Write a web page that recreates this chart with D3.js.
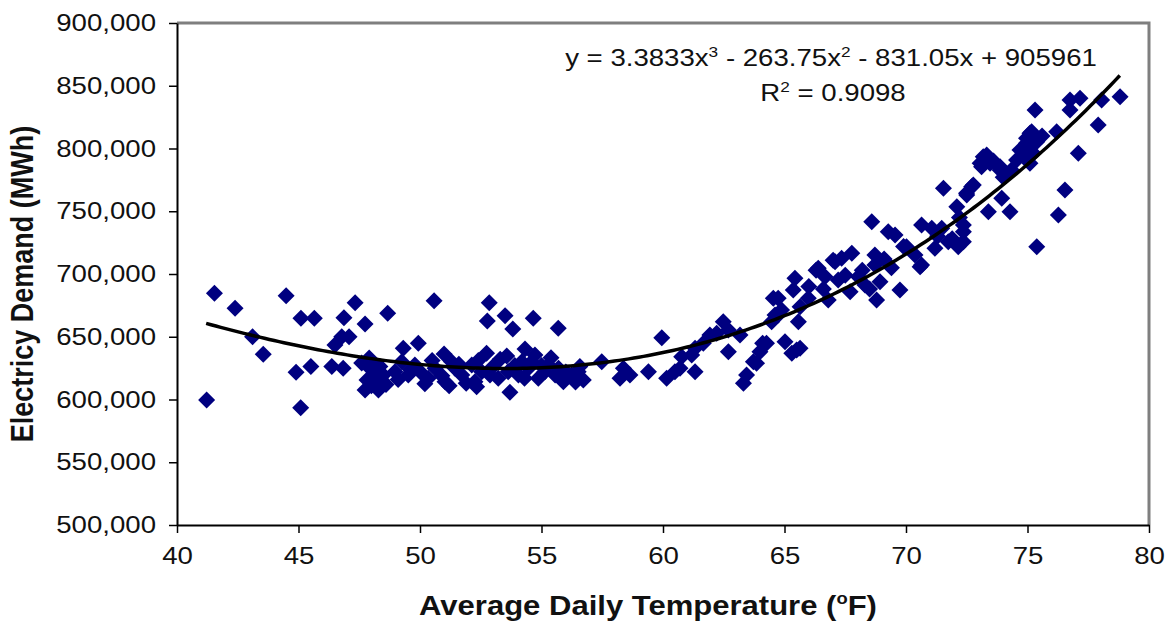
<!DOCTYPE html>
<html>
<head>
<meta charset="utf-8">
<script src="https://cdn.jsdelivr.net/npm/d3@7"></script>
<style>
  body { margin: 0; background: #fff; }
  svg text { font-family: "Liberation Sans", Arial, sans-serif; fill: #111; }
</style>
</head>
<body>
<svg id="chart" width="1173" height="630"></svg>
<script>
// [temperature °F, demand MWh]
const coolDays = [
    [41.22, 599600], [41.54, 684600], [42.39, 672700], [43.11, 650000], [43.55, 636000],
    [44.49, 682700], [44.90, 621700], [45.09, 593500], [45.10, 664700], [45.51, 626200],
    [45.65, 664700], [46.37, 626200], [46.50, 643400], [46.78, 650000], [46.84, 624900],
    [46.87, 665200], [47.08, 650000], [47.33, 677100], [47.74, 660200], [47.74, 607600],
    [47.94, 625000], [48.22, 619500], [47.91, 633100], [48.40, 615500], [47.82, 615500],
    [48.29, 607600], [48.35, 626200], [48.49, 619500], [48.67, 668700], [48.10, 628000],
    [48.00, 611000], [47.60, 629000], [48.60, 612000]
]
const mildDays = [
    [48.97, 622200], [49.25, 630100], [49.31, 640800], [49.52, 619500], [49.79, 627500],
    [49.93, 644800], [50.07, 620900], [50.34, 616900], [50.58, 678700], [50.62, 624900],
    [50.99, 636300], [51.03, 614200], [51.30, 630100], [51.44, 624900], [51.72, 619500],
    [52.13, 627500], [52.26, 614200], [52.33, 610200], [52.54, 622200], [52.74, 636800],
    [52.77, 662600], [52.85, 677100], [52.88, 619500], [53.22, 616900], [53.50, 666800],
    [53.57, 634700], [53.63, 622200], [53.70, 605700], [53.82, 656200], [54.05, 619500],
    [54.19, 630100], [54.32, 640200], [54.46, 624900], [54.66, 664700], [54.73, 635500],
    [54.87, 616900], [55.14, 622200], [55.28, 627500], [55.39, 633300], [55.56, 619500],
    [55.69, 656700], [55.90, 614200], [56.24, 619500], [56.51, 622200], [56.58, 626200],
    [56.72, 615500], [57.48, 630100], [58.23, 616900], [58.37, 624900], [58.64, 619500],
    [59.40, 622200], [59.95, 649300], [60.15, 616900], [60.49, 622200], [60.70, 624900],
    [60.77, 634100], [61.18, 635500], [61.32, 622200], [61.32, 640800], [61.66, 644800],
    [61.93, 651400], [49.10, 616000], [49.60, 624000], [50.20, 612500], [50.50, 631000],
    [50.90, 619000], [51.20, 611000], [51.60, 628000], [51.90, 613000], [52.40, 631000],
    [53.00, 626000], [53.30, 632000], [53.90, 627000], [54.30, 617000], [54.60, 630000],
    [55.00, 627000], [55.70, 625000], [56.00, 622000], [56.40, 614000]
]
const warmDays = [
    [62.21, 652800], [62.48, 662000], [62.69, 655400], [62.69, 638100], [63.17, 651400],
    [63.31, 612900], [63.44, 619500], [63.72, 630100], [63.85, 628900], [63.99, 638100],
    [64.10, 644800], [64.26, 644800], [64.47, 662000], [64.54, 680600], [64.61, 667300],
    [64.74, 667300], [64.74, 680600], [64.88, 671300], [65.02, 646100], [65.30, 636800],
    [65.36, 687300], [65.43, 696600], [65.50, 639500], [65.57, 662000], [65.64, 673900],
    [65.64, 640800], [65.98, 680600], [66.30, 703000], [66.39, 704500], [66.67, 697900],
    [66.80, 679300], [67.00, 711000], [67.08, 709800], [67.21, 695200], [67.35, 712500],
    [67.70, 685900], [67.77, 716500], [68.04, 697900], [68.31, 691200], [68.59, 741700],
    [68.72, 715100], [68.72, 707200], [68.79, 679300], [68.93, 693900], [69.27, 733700],
    [69.55, 731100], [69.75, 687300], [66.00, 690000], [66.60, 688000], [67.50, 699000],
    [68.20, 703000], [68.50, 688000], [69.10, 712000], [69.40, 705000], [69.90, 722000]
]
const hotDays = [
    [70.02, 721800], [70.37, 715100], [70.58, 705800], [70.64, 739000], [70.64, 707200],
    [71.06, 736400], [71.19, 720500], [71.30, 730000], [71.47, 736400], [71.54, 768300],
    [71.74, 725700], [72.09, 753600], [72.15, 721800], [72.36, 733700], [72.36, 739000],
    [72.36, 725700], [72.49, 764300], [72.50, 763000], [72.70, 769600], [72.77, 770900],
    [73.05, 788200], [73.11, 785500], [73.18, 793500], [73.32, 794800], [73.39, 749600],
    [73.46, 788200], [73.87, 782900], [73.87, 785500], [73.94, 760300], [74.28, 749600],
    [74.34, 782900], [74.55, 790800], [74.69, 798800], [74.76, 798800], [74.96, 804100],
    [74.96, 792200], [74.96, 808100], [75.10, 812100], [75.10, 788200], [75.17, 813400],
    [75.24, 796200], [75.31, 830700], [75.38, 805400], [75.38, 721800], [76.20, 813400],
    [76.27, 747000], [76.54, 766900], [76.75, 838600], [76.75, 830700], [77.09, 796200],
    [77.16, 840000], [77.91, 818700], [78.05, 838600], [78.81, 841300], [71.90, 728000],
    [72.20, 745000], [73.60, 790000], [74.00, 777000], [75.00, 800000], [75.60, 810000]
]

const xTicks = [40, 45, 50, 55, 60, 65, 70, 75, 80]
const yTicks = [500000, 550000, 600000, 650000, 700000, 750000, 800000, 850000, 900000]

// printed trendline: y = 3.3833x^3 - 263.75x^2 - 831.05x + 905961
const trendCoef = [3.3833, -263.75, -831.05, 905961]
const trendRange = [41.2, 78.8]
const rSquared = '0.9098'

const margin = { top: 23, right: 24, bottom: 105, left: 177 }
const svg = d3.select('#chart')
const width = +svg.attr('width') - margin.left - margin.right
const height = +svg.attr('height') - margin.top - margin.bottom

const x = d3.scaleLinear().domain([40, 80]).range([0, width])
const y = d3.scaleLinear().domain([500000, 900000]).range([height, 0])

// the source picture has its text a bit wider than tall
const stretchK = 1.15
const stretchAt = (ax) => `translate(${ax},0) scale(${stretchK},1) translate(${-ax},0)`

const g = svg.append('g').attr('transform', `translate(${margin.left},${margin.top})`)

// plot frame: grey top/right, black axes
g.append('path')
    .attr('d', `M0,0H${width}V${height}`)
    .attr('fill', 'none')
    .attr('stroke', '#7f7f7f')
    .attr('stroke-width', 3)

const fmt = d3.format(',')
const yAxis = g.append('g')
    .call(d3.axisLeft(y).tickValues(yTicks).tickFormat(fmt).tickSize(8).tickSizeOuter(0).tickPadding(13))
const xAxis = g.append('g')
    .attr('transform', `translate(0,${height})`)
    .call(d3.axisBottom(x).tickValues(xTicks).tickSize(8).tickSizeOuter(0).tickPadding(14))

for (const ax of [xAxis, yAxis]) {
    ax.select('.domain').attr('stroke', '#000').attr('stroke-width', 2)
    ax.selectAll('.tick line').attr('stroke', '#000').attr('stroke-width', 1.5)
    ax.selectAll('.tick text')
        .attr('fill', '#111')
        .style('font-size', '24px')
        .style('font-family', '"Liberation Sans", Arial, sans-serif')
        .attr('transform', function () { return stretchAt(+this.getAttribute('x') || 0) })
}

// diamond markers
const points = [...coolDays, ...mildDays, ...warmDays, ...hotDays]
const s = 8.5
g.append('g')
    .selectAll('path')
    .data(points)
    .join('path')
    .attr('transform', d => `translate(${x(d[0])},${y(d[1])})`)
    .attr('d', `M0,${-s}L${s},0L0,${s}L${-s},0Z`)
    .attr('fill', '#000080')

// trendline
const poly = t => trendCoef.reduce((acc, c) => acc * t + c, 0)
const trendX = d3.range(trendRange[0], trendRange[1] + 0.001, 0.2)
g.append('path')
    .datum(trendX)
    .attr('fill', 'none')
    .attr('stroke', '#000')
    .attr('stroke-width', 3.5)
    .attr('stroke-linejoin', 'round')
    .attr('d', d3.line().x(t => x(t)).y(t => y(poly(t))))

// equation labels
const eq = svg.append('text')
    .attr('x', 831).attr('y', 66)
    .attr('text-anchor', 'middle')
    .attr('transform', stretchAt(831))
    .style('font-size', '24px')
eq.append('tspan').text('y = 3.3833x')
eq.append('tspan').text('3').attr('dy', -9).style('font-size', '15px')
eq.append('tspan').text(' - 263.75x').attr('dy', 9)
eq.append('tspan').text('2').attr('dy', -9).style('font-size', '15px')
eq.append('tspan').text(' - 831.05x + 905961').attr('dy', 9)

const r2 = svg.append('text')
    .attr('x', 833).attr('y', 101)
    .attr('text-anchor', 'middle')
    .attr('transform', stretchAt(833))
    .style('font-size', '24px')
r2.append('tspan').text('R')
r2.append('tspan').text('2').attr('dy', -9).style('font-size', '15px')
r2.append('tspan').text(' = ' + rSquared).attr('dy', 9)

// axis titles
const xt = svg.append('text')
    .attr('x', 648).attr('y', 615)
    .attr('text-anchor', 'middle')
    .attr('transform', stretchAt(648))
    .style('font-size', '27px').style('font-weight', 'bold')
xt.append('tspan').text('Average Daily Temperature (')
xt.append('tspan').text('o').attr('dy', -11).style('font-size', '16px')
xt.append('tspan').text('F)').attr('dy', 11)

svg.append('text')
    .attr('transform', `translate(33,284) scale(${stretchK},1) rotate(-90)`)
    .attr('text-anchor', 'middle')
    .style('font-size', '27px').style('font-weight', 'bold')
    .text('Electricy Demand (MWh)')
</script>
</body>
</html>
